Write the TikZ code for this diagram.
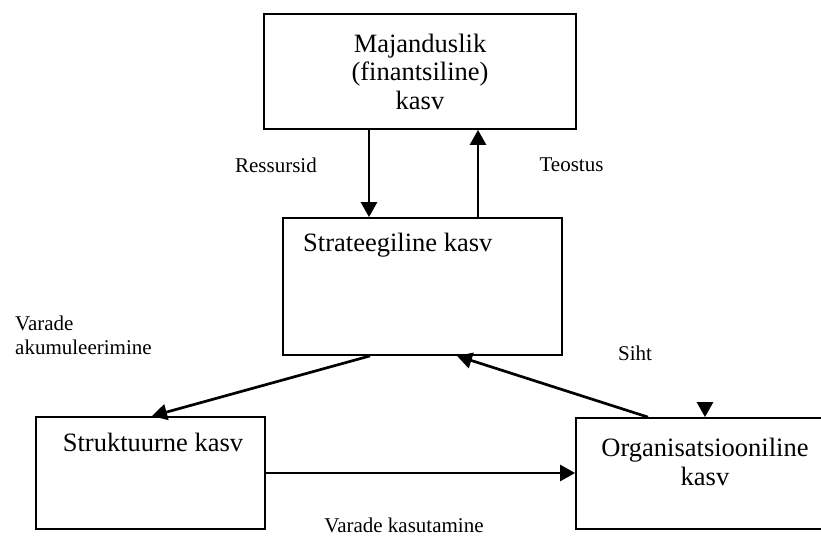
\documentclass[tikz,border=0pt]{standalone}
\usepackage{fontspec}
\setmainfont{Liberation Serif}
\usepackage{tikz}
\usetikzlibrary{
    arrows.meta, positioning, calc
}

\tikzset{
    growthbox/.style={draw, line width=1.8pt, inner sep=0pt},
    boxtext/.style={font=\fontsize{26.5}{28.5}\selectfont, inner sep=0pt, align=center},
    flowlabel/.style={font=\fontsize{21}{24}\selectfont, inner sep=0pt, align=left},
    flowarrow/.style={line width=2.7pt, -{Triangle[length=15pt,width=16pt]}}
}

\begin{document}
\begin{tikzpicture}[x=1pt, y=-1pt]
    \useasboundingbox (0,0) rectangle (821,536);

    % --- Kastid ---
    \node[growthbox, boxtext, minimum width=312pt, minimum height=115pt] (fin) at (420,71.5) {Majanduslik\\(finantsiline)\\kasv};
    \node[growthbox, minimum width=279pt, minimum height=137pt] (strat) at (422.5,286.5) {};
    \node[growthbox, minimum width=229pt, minimum height=112pt] (struct) at (150.5,473) {};
    \node[growthbox, minimum width=320pt, minimum height=111pt] (org) at (736,473.5) {};

    % Tekstid kastides
    \node[boxtext, anchor=west] (strattxt) at (303,245) {Strateegiline kasv};
    \node[boxtext] (structtxt) at (153,442) {Struktuurne kasv};
    \node[boxtext] (orgtxt) at (705,462) {Organisatsiooniline\\kasv};

    % --- Nooled ---
    \draw[flowarrow] ([xshift=-51pt]fin.south) -- ([xshift=-51pt]fin.south |- strat.north);
    \draw[flowarrow] ([xshift=58pt]fin.south |- strat.north) -- ([xshift=58pt]fin.south);
    \draw[flowarrow] ([xshift=-52.5pt]strat.south) -- ([xshift=1.5pt]struct.north);
    \draw[flowarrow] ([xshift=-88pt]org.north) -- ([xshift=34.5pt]strat.south);
    \draw[flowarrow] (struct.east) -- (struct.east -| org.west);
    \coordinate (orgin) at (705,403);
    \draw[flowarrow] (orgin) -- (orgin |- org.north); % lühike nool

    % --- Sildid ---
    \node[flowlabel] (ress) at (276,165) {Ressursid};
    \node[flowlabel] (teos) at (571.5,165) {Teostus};
    \node[flowlabel, anchor=west] (akum) at (15,335) {Varade\\akumuleerimine};
    \node[flowlabel] (siht) at (635,353) {Siht};
    \node[flowlabel] (kasut) at (404,525) {Varade kasutamine};
\end{tikzpicture}
\end{document}
